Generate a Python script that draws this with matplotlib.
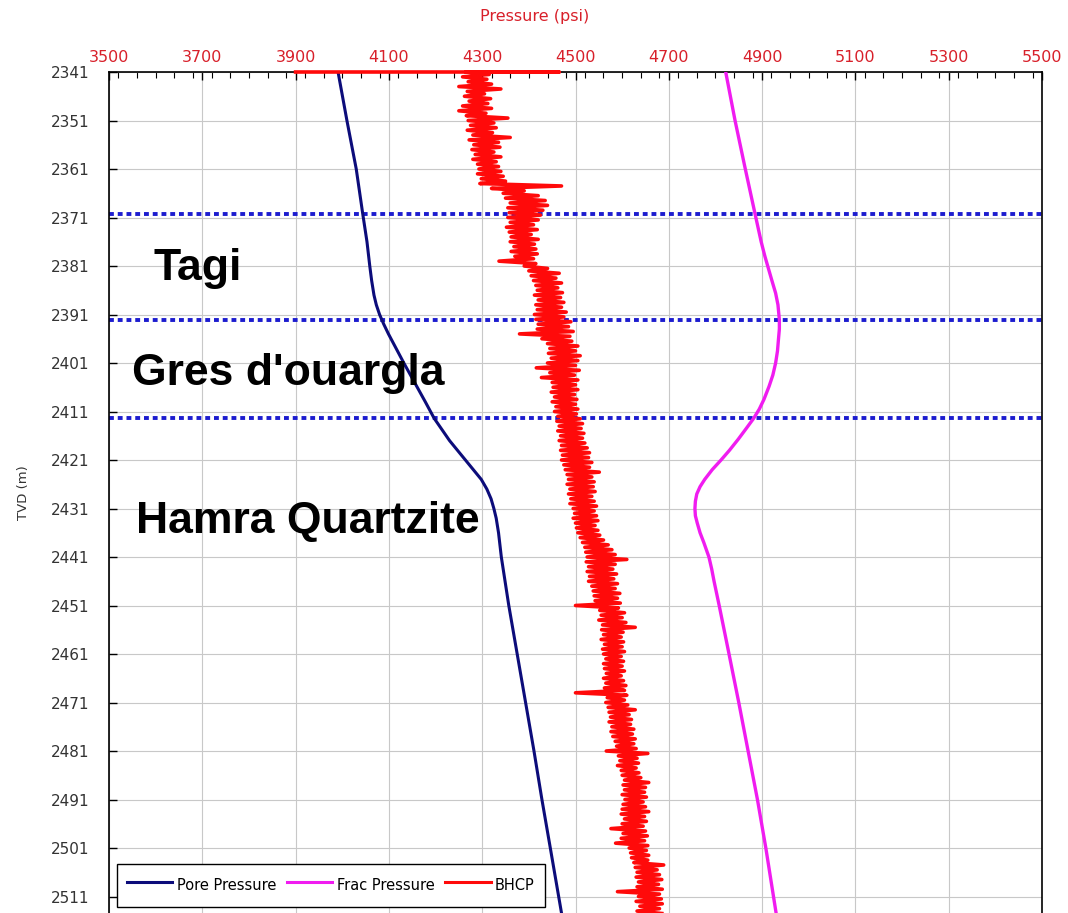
import numpy as np
import matplotlib
matplotlib.use("Agg")
import matplotlib.pyplot as plt
from matplotlib.ticker import MultipleLocator, FixedLocator

plt.rcParams['font.family'] = ['DejaVu Sans']

# ---- data -------------------------------------------------------------
pore_depth = [2341, 2351, 2361, 2370.3, 2376, 2381, 2384, 2387, 2389, 2391,
              2393, 2395, 2397, 2399, 2401, 2405, 2409, 2412.4, 2417, 2421,
              2423, 2425, 2427, 2429, 2431, 2433, 2436, 2441, 2451, 2461,
              2471, 2481, 2491, 2501, 2514.4]
pore_psi = [3991, 4010, 4030, 4044, 4053, 4059, 4063, 4068, 4073, 4080,
            4089, 4099, 4110, 4121, 4132, 4155, 4178, 4197, 4230, 4264,
            4281, 4298, 4310, 4319, 4325, 4330, 4335, 4341, 4357, 4375,
            4393, 4411, 4428, 4446, 4470]

frac_depth = [2341, 2351, 2361, 2370.3, 2376, 2379, 2381, 2384, 2386.6, 2389,
              2392.1, 2394, 2396.2, 2398.5, 2401, 2403.5, 2405.8, 2408.5,
              2410.5, 2412.4, 2414.5, 2416.7, 2419, 2421, 2423, 2425, 2426.5,
              2428, 2429.5, 2431, 2432.5, 2434, 2436, 2438, 2441, 2443.5,
              2446, 2451, 2460, 2471, 2481, 2491, 2501, 2514.4]
frac_psi = [4822, 4842, 4864, 4885, 4898, 4906, 4912, 4921, 4929, 4934,
            4937, 4937, 4935, 4933, 4929, 4923, 4915, 4904,
            4894, 4882, 4866, 4849, 4830, 4812, 4793, 4777, 4767,
            4760, 4757, 4756, 4757, 4761, 4767, 4775, 4786, 4792,
            4797, 4808, 4827, 4850, 4870, 4890, 4908, 4930]

# BHCP log: surface-start segment, then per-metre min / max readings
bhcp_top_psi = [3900, 4465]
bhcp_depth = list(range(2341, 2515))
bhcp_low = [
    4265, 4258, 4270, 4250, 4268, 4262, 4272, 4258, 4250, 4266,   # 2341-2350
    4270, 4275, 4268, 4280, 4272, 4282, 4278, 4285, 4280, 4290,   # 2351-2360
    4293, 4290, 4298, 4295, 4320, 4345, 4350, 4360, 4355, 4358,   # 2361-2370
    4355, 4360, 4352, 4358, 4362, 4360, 4368, 4362, 4370, 4336,   # 2371-2380
    4390, 4400, 4405, 4410, 4415, 4418, 4412, 4420, 4415, 4418,   # 2381-2390
    4412, 4415, 4420, 4418, 4380, 4428, 4440, 4445, 4442, 4448,   # 2391-2400
    4440, 4416, 4445, 4427, 4450, 4452, 4448, 4455, 4450, 4458,   # 2401-2410
    4455, 4462, 4460, 4465, 4462, 4468, 4465, 4470, 4468, 4472,   # 2411-2420
    4470, 4475, 4478, 4482, 4485, 4482, 4488, 4485, 4490, 4488,   # 2421-2430
    4495, 4498, 4495, 4500, 4502, 4505, 4510, 4515, 4520, 4522,   # 2431-2440
    4525, 4523, 4528, 4525, 4530, 4528, 4535, 4538, 4540, 4542,   # 2441-2450
    4500, 4552, 4555, 4550, 4558, 4556, 4560, 4555, 4562, 4558,   # 2451-2460
    4560, 4565, 4560, 4562, 4566, 4560, 4565, 4562, 4500, 4568,   # 2461-2470
    4565, 4570, 4572, 4575, 4572, 4578, 4576, 4580, 4585, 4588,   # 2471-2480
    4566, 4592, 4595, 4590, 4598, 4600, 4605, 4602, 4605, 4600,   # 2481-2490
    4606, 4602, 4600, 4598, 4605, 4600, 4576, 4602, 4598, 4586,   # 2491-2500
    4615, 4618, 4620, 4625, 4628, 4632, 4630, 4635, 4632, 4590,   # 2501-2510
    4635, 4630, 4638, 4632,                                       # 2511-2514
]
bhcp_high = [
    4315, 4310, 4320, 4340, 4305, 4318, 4312, 4320, 4308, 4355,   # 2341-2350
    4325, 4330, 4322, 4360, 4335, 4338, 4325, 4340, 4330, 4335,   # 2351-2360
    4340, 4345, 4350, 4470, 4390, 4420, 4435, 4440, 4430, 4425,   # 2361-2370
    4420, 4410, 4418, 4405, 4420, 4412, 4415, 4418, 4410, 4415,   # 2371-2380
    4440, 4465, 4458, 4470, 4462, 4472, 4468, 4475, 4470, 4480,   # 2381-2390
    4475, 4490, 4485, 4495, 4488, 4492, 4505, 4500, 4510, 4505,   # 2391-2400
    4500, 4508, 4498, 4505, 4500, 4505, 4498, 4503, 4500, 4505,   # 2401-2410
    4502, 4510, 4515, 4512, 4518, 4515, 4520, 4525, 4530, 4528,   # 2411-2420
    4535, 4530, 4551, 4535, 4540, 4538, 4542, 4535, 4540, 4545,   # 2421-2430
    4540, 4545, 4548, 4542, 4548, 4552, 4560, 4570, 4578, 4585,   # 2431-2440
    4610, 4585, 4580, 4588, 4582, 4590, 4585, 4595, 4590, 4596,   # 2441-2450
    4592, 4605, 4600, 4608, 4628, 4602, 4598, 4603, 4600, 4605,   # 2451-2460
    4598, 4603, 4600, 4605, 4598, 4603, 4608, 4605, 4610, 4605,   # 2461-2470
    4612, 4628, 4615, 4620, 4618, 4625, 4622, 4628, 4625, 4630,   # 2471-2480
    4655, 4632, 4635, 4630, 4636, 4640, 4657, 4650, 4648, 4652,   # 2481-2490
    4645, 4650, 4657, 4648, 4652, 4645, 4650, 4654, 4648, 4655,   # 2491-2500
    4652, 4657, 4655, 4689, 4675, 4680, 4685, 4678, 4686, 4680,   # 2501-2510
    4684, 4686, 4680, 4685,                                       # 2511-2514
]

tops_depth = [2370.3, 2392.1, 2412.4]
formations = ["Tagi", "Gres d'ouargla", "Hamra Quartzite"]
formation_label_depth = [2381.5, 2403.2, 2433.7]
formation_label_psi = [3595, 3550, 3558]

x_ticks = list(range(3500, 5501, 200))
y_ticks = list(range(2341, 2512, 10))

# ---- build BHCP trace (min/max per metre) ------------------------------
trace_d = [2341, 2341]
trace_p = list(bhcp_top_psi)
for d, lo, hi in zip(bhcp_depth, bhcp_low, bhcp_high):
    trace_d += [d, d + 0.5]
    trace_p += [lo, hi]

# ---- figure -------------------------------------------------------------
W, H = 1068, 913
L, R, T = 109, 1042, 72
fig = plt.figure(figsize=(W / 100, H / 100), dpi=100)
ax = fig.add_axes([L / W, 0, (R - L) / W, (H - T) / H])

red_txt = '#d8202a'

ax.set_xlim(3500, 5500)
ax.set_ylim(2514.4, 2341)

ax.xaxis.set_ticks_position('top')
ax.xaxis.set_major_locator(FixedLocator(x_ticks))
ax.xaxis.set_minor_locator(MultipleLocator(40))
ax.yaxis.set_major_locator(FixedLocator(y_ticks))

ax.tick_params(axis='x', which='major', direction='in', length=6, width=1,
               labelsize=11.5, labelcolor=red_txt, pad=5)
ax.tick_params(axis='x', which='minor', direction='in', length=4, width=0.8)
ax.tick_params(axis='y', which='major', direction='in', length=6, width=1,
               labelsize=11, labelcolor='#333333', pad=14)

ax.set_ylabel('TVD (m)', color='#333333', fontsize=9.5, labelpad=15)
fig.text(535 / W, 1 - 16 / H, 'Pressure (psi)', color=red_txt, fontsize=11.5,
         ha='center', va='center')

ax.grid(True, which='major', color='#c8c8c8', linewidth=0.8)
ax.set_axisbelow(True)

for side in ('top', 'left', 'right'):
    ax.spines[side].set_linewidth(1.2)
    ax.spines[side].set_color('black')
ax.spines['bottom'].set_visible(False)

# formation tops
for d in tops_depth:
    ax.axhline(d, color='#1c1ccf', linewidth=2.8, linestyle=(0, (1.25, 1.0)),
               zorder=2)

l_pore, = ax.plot(pore_psi, pore_depth, color='#0c0c7a', linewidth=2.2,
                  zorder=3, label='Pore Pressure')
l_frac, = ax.plot(frac_psi, frac_depth, color='#f01cf0', linewidth=2.4,
                  zorder=3, label='Frac Pressure')
l_bhcp, = ax.plot(trace_p, trace_d, color='#ff0a0a', linewidth=2.6,
                  zorder=4, clip_on=False, label='BHCP')

for name, d, p in zip(formations, formation_label_depth, formation_label_psi):
    ax.text(p, d, name, fontsize=32, fontweight='bold', color='black',
            family='Liberation Sans', ha='left', va='center', zorder=5)

leg = ax.legend(handles=[l_pore, l_frac, l_bhcp], loc='lower left',
                bbox_to_anchor=((117 - L) / (R - L), 6 / (H - T)), ncol=3,
                fontsize=10.5, frameon=True, fancybox=False,
                edgecolor='black', framealpha=1, handlelength=3.1,
                handleheight=2.0, handletextpad=0.3, columnspacing=0.75,
                borderpad=0.7, borderaxespad=0)
leg.get_frame().set_linewidth(1.0)
leg.set_zorder(6)
for line in leg.get_lines():
    line.set_linewidth(2.2)

fig.savefig('out.png', dpi=100)
